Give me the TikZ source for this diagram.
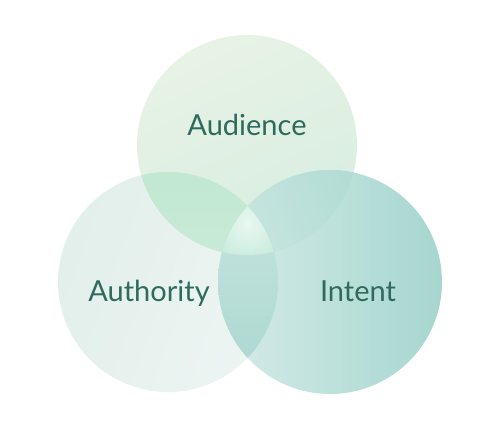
\documentclass[tikz,border=0pt]{standalone}
\usepackage{fontspec}
\setmainfont{Lato}
\usepackage{tikz}
\usetikzlibrary{positioning,calc}
\definecolor{ink}{HTML}{2E6B5C}
\definecolor{audtop}{HTML}{E7F3E5}
\definecolor{audbot}{HTML}{D8EDE2}
\definecolor{authtop}{HTML}{E2EFEA}
\definecolor{authbot}{HTML}{EDF5F3}
\definecolor{intlight}{HTML}{D6ECE8}
\definecolor{intdark}{HTML}{A6D6CF}
\definecolor{mintA}{HTML}{C2E8D1}
\definecolor{mintB}{HTML}{D0EEDF}
\definecolor{tealA}{HTML}{CFEAE4}
\definecolor{tealB}{HTML}{A8D7CE}
\definecolor{lowA}{HTML}{CAE7E1}
\definecolor{lowB}{HTML}{A9D6CF}
\definecolor{coreA}{HTML}{E8F8F0}
\definecolor{coreB}{HTML}{C8EADC}
\tikzset{
  disc/.style={circle, minimum size=220pt, inner sep=0pt},
  audiencedisc/.style={disc, top color=audtop, bottom color=audbot, shading angle=25},
  authoritydisc/.style={disc, left color=authtop, right color=authbot, shading angle=70},
  intentdisc/.style={disc, minimum size=224pt, left color=intlight, right color=intdark},
  word/.style={font=\fontsize{29}{33}\selectfont, text=ink, anchor=base, inner sep=0pt}
}
\begin{document}
\begin{tikzpicture}[x=1pt,y=1pt]
\useasboundingbox (0,0) rectangle (500,420);
\node[audiencedisc] (aud) at (247,275) {};
\node[authoritydisc] (auth) at (168,138) {};
\node[intentdisc] (int) at (330,138) {};
% overlaps
\begin{scope}
  \clip (aud.center) circle (110);
  \shade[top color=mintA, bottom color=mintB] (auth.center) circle (110);
\end{scope}
\begin{scope}
  \clip (aud.center) circle (110);
  \shade[left color=tealA, right color=tealB, shading angle=110] (int.center) circle (112);
\end{scope}
\begin{scope}
  \clip (auth.center) circle (110);
  \shade[top color=lowA, bottom color=lowB] (int.center) circle (112);
\end{scope}
\begin{scope}
  \clip (aud.center) circle (110);
  \clip (auth.center) circle (110);
  \clip (int.center) circle (112);
  \coordinate (mid) at ($(aud)!0.5!($(auth)!0.5!(int)$)$);
  \shade[inner color=coreA, outer color=coreB] ([yshift=-10pt]mid) circle (40);
\end{scope}
\node[word] (audtxt) at ([yshift=9pt]aud.center) {Audience};
\node[word] (authtxt) at ([shift={(-19pt,-20pt)}]auth.center) {Authority};
\node[word] (inttxt) at ([shift={(28pt,-20pt)}]int.center) {Intent};
\end{tikzpicture}
\end{document}
